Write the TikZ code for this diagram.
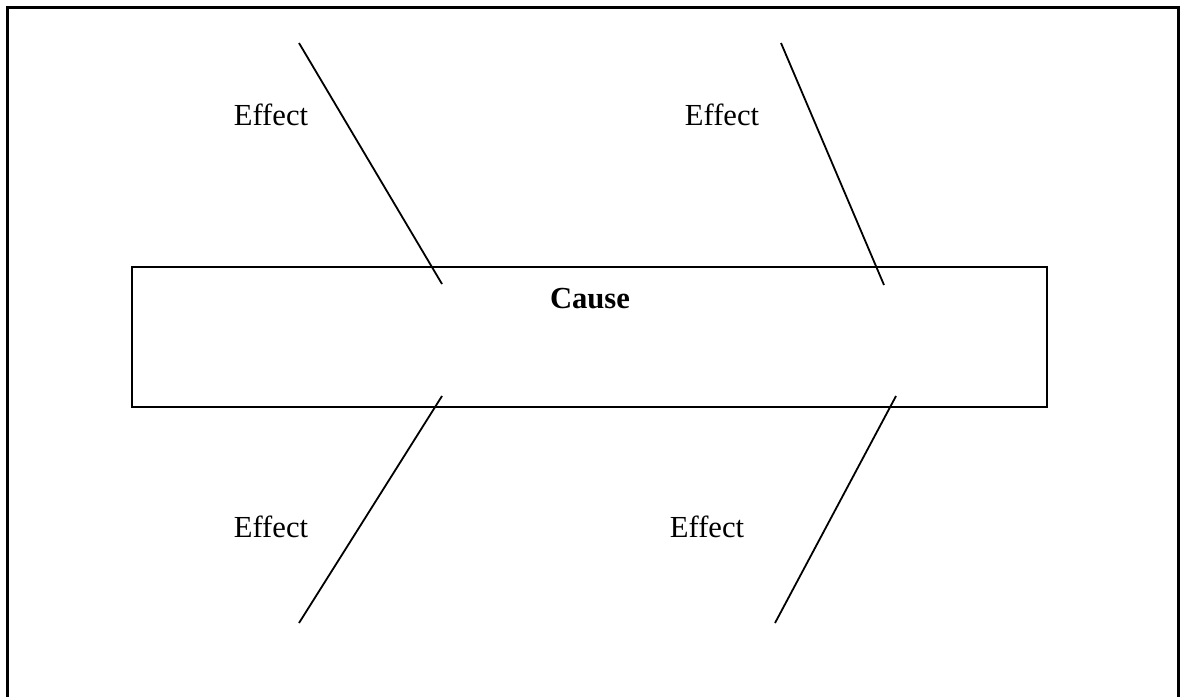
\documentclass[tikz,border=0pt]{standalone}
\usepackage{fontspec}
\setmainfont{Liberation Serif}
\usepackage{tikz}
\usetikzlibrary{calc}

\begin{document}
\begin{tikzpicture}[x=0.5pt, y=-0.5pt]
    % Styles for box, lines and labels
    \tikzstyle{frame} = [draw=black, line width=1.5pt]
    \tikzstyle{causebox} = [draw=black, line width=1pt]
    \tikzstyle{bone} = [draw=black, line width=0.9pt]
    \tikzstyle{label} = [inner sep=0pt, anchor=base, font=\fontsize{15.3}{18}\selectfont]

    \useasboundingbox (0,0) rectangle (1181,697);

  % Outer frame
    \draw[frame] (7,697) -- (7,7) -- (1178,7) -- (1178,697);

  % Cause box
    \coordinate (boxnw) at (132,267);
    \coordinate (boxse) at (1047,407);
    \draw[causebox] (boxnw) rectangle (boxse);
    \node[label, font=\fontsize{15.3}{18}\selectfont\bfseries] (cause) at (590,308) {Cause};

  % Bones with explicit coordinates
    \coordinate (tlA) at (299,43);  \coordinate (tlB) at (442,284);
    \coordinate (trA) at (781,43);  \coordinate (trB) at (884,285);
    \coordinate (blA) at (442,396); \coordinate (blB) at (299,623);
    \coordinate (brA) at (896,396); \coordinate (brB) at (775,623);
    \draw[bone] (tlA) -- (tlB);
    \draw[bone] (trA) -- (trB);
    \draw[bone] (blA) -- (blB);
    \draw[bone] (brA) -- (brB);

  % Effect labels
    \node[label] (effectTL) at (271,125) {Effect};
    \node[label] (effectTR) at (722,125) {Effect};
    \node[label] (effectBL) at (271,537) {Effect};
    \node[label] (effectBR) at (707,537) {Effect};

\end{tikzpicture}
\end{document}
